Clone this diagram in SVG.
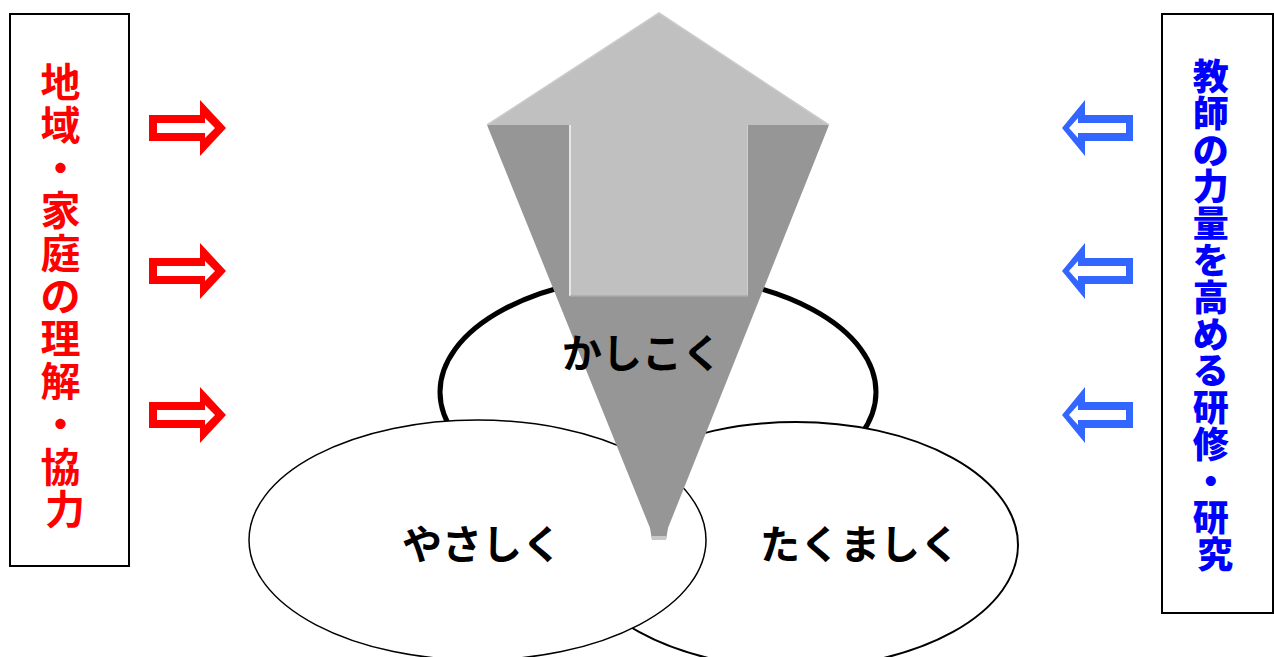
<svg xmlns="http://www.w3.org/2000/svg" width="1274" height="657" viewBox="0 0 1274 657">
<defs>
<style>
.box{fill:#fff;stroke:#000;stroke-width:2}
.lbl{font-family:"Noto Sans CJK JP","Noto Sans",sans-serif;font-weight:bold;text-anchor:middle;dominant-baseline:central}
.red{fill:#FF0000;font-size:40px}
.blue{fill:#0000FF;font-size:36px;font-weight:900}
.oval{fill:#fff;stroke:#000}
.big{font-size:40px;fill:#000}
.rout{fill:#FF0000}
.bout{fill:#3366FF}
.inner{fill:#fff}
</style>
<g id="ra">
<polygon class="rout" points="149,-13 200,-13 200,-28 226,0 200,28 200,13 149,13"/>
<polygon class="inner" points="157,-5 205,-5 205,-10 215,0 205,10 205,5 157,5"/>
</g>
<g id="ba">
<polygon class="bout" points="1133,-13 1085,-13 1085,-28 1062,0 1085,28 1085,13 1133,13"/>
<polygon class="inner" points="1126,-5 1078,-5 1078,-10 1069,0 1078,10 1078,5 1126,5"/>
</g>
</defs>
<rect width="1274" height="657" fill="#fff"/>

<g id="node-left">
<rect class="box" x="10" y="14" width="119" height="552"/>
<text class="lbl red">
<tspan x="65" y="80">地</tspan>
<tspan x="65" y="123">域</tspan>
<tspan x="65" y="166">・</tspan>
<tspan x="65" y="208">家</tspan>
<tspan x="65" y="251">庭</tspan>
<tspan x="65" y="294">の</tspan>
<tspan x="65" y="336">理</tspan>
<tspan x="65" y="379">解</tspan>
<tspan x="65" y="422">・</tspan>
<tspan x="65" y="465">協</tspan>
<tspan x="65" y="507">力</tspan>
</text>
</g>

<g id="node-right">
<rect class="box" x="1162" y="14" width="111" height="599"/>
<text class="lbl blue">
<tspan x="1215" y="74">教</tspan>
<tspan x="1215" y="111">師</tspan>
<tspan x="1215" y="148">の</tspan>
<tspan x="1215" y="184">力</tspan>
<tspan x="1215" y="221">量</tspan>
<tspan x="1215" y="258">を</tspan>
<tspan x="1215" y="295">高</tspan>
<tspan x="1215" y="332">め</tspan>
<tspan x="1215" y="368">る</tspan>
<tspan x="1215" y="405">研</tspan>
<tspan x="1215" y="442">修</tspan>
<tspan x="1215" y="479">・</tspan>
<tspan x="1215" y="515">研</tspan>
<tspan x="1215" y="552">究</tspan>
</text>
</g>

<g id="node-kashikoku">
<ellipse class="oval" cx="658" cy="392" rx="218" ry="117" stroke-width="5"/>
</g>
<g id="node-takumashiku">
<ellipse class="oval" cx="796" cy="545" rx="222" ry="123" stroke-width="2"/>
</g>
<g id="node-yasashiku">
<ellipse class="oval" cx="477.5" cy="540" rx="228.5" ry="120" stroke-width="1.5"/>
</g>

<g id="node-arrow">
<polygon points="487,125 829,125 668,528 666,540 652,540 650,528" fill="#969696"/>
<polygon points="652,536 666,536 666,540 652,540" fill="#C8C8C8"/>
<polygon points="487,125 659,13 829,125" fill="#C0C0C0"/>
<path d="M487,125 L659,13 L829,125" fill="none" stroke="#CACACA" stroke-width="1.5"/>
<rect x="569" y="124" width="179" height="172" fill="#C0C0C0"/>
<line x1="570" y1="125" x2="570" y2="296" stroke="#E6E6E6" stroke-width="2"/>
<line x1="747.5" y1="125" x2="747.5" y2="296" stroke="#CFCFCF" stroke-width="1"/>
<line x1="570" y1="296" x2="748" y2="296" stroke="#ABABAB" stroke-width="1.5"/>
</g>

<g id="labels">
<text class="lbl big" x="642" y="351">かしこく</text>
<text class="lbl big" x="482" y="542">やさしく</text>
<text class="lbl big" x="860" y="542">たくましく</text>
</g>

<g id="connectors">
<use href="#ra" transform="translate(0,128)"/>
<use href="#ra" transform="translate(0,271)"/>
<use href="#ra" transform="translate(0,415)"/>
<use href="#ba" transform="translate(0,128)"/>
<use href="#ba" transform="translate(0,271)"/>
<use href="#ba" transform="translate(0,415)"/>
</g>
</svg>
